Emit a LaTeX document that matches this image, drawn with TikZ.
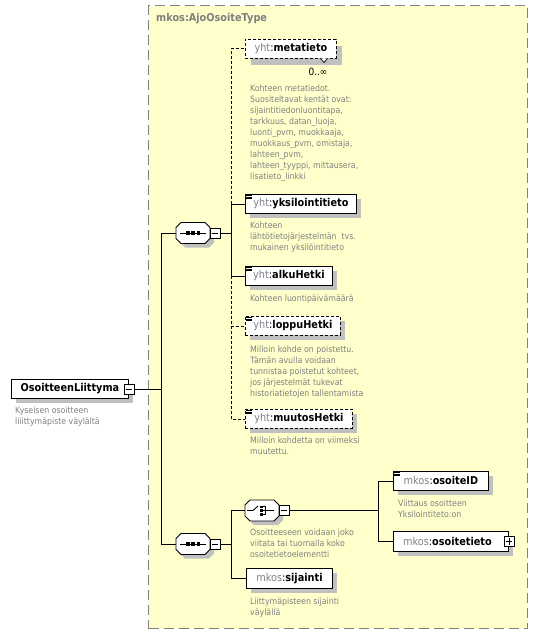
\documentclass[tikz,border=0pt]{standalone}
\usepackage{fontspec}
\setmainfont{DejaVu Sans}[FakeStretch=0.9]
\usetikzlibrary{shadows}
\definecolor{bgyellow}{RGB}{255,255,204}
\definecolor{framegray}{RGB}{128,128,128}
\definecolor{shadowc}{RGB}{192,192,192}
\definecolor{descc}{RGB}{128,128,128}
\definecolor{prefc}{RGB}{128,128,140}
\newcommand\namefont{\fontsize{10.8}{12}\selectfont}
\newcommand\descfont{\fontsize{8.7}{10.9}\selectfont}
\newcommand\qn[2]{{\color{prefc}\mdseries #1}{\mdseries :}#2}
\tikzset{
 basebox/.style={draw=black, fill=white, line width=0.9pt, inner sep=0pt, minimum height=19pt, anchor=north west, font=\namefont\bfseries},
 elbox/.style={basebox, drop shadow={shadow xshift=4.5pt, shadow yshift=-4.5pt, fill=shadowc, opacity=1}},
 optbox/.style={elbox, dash pattern=on 3pt off 2pt},
 desctext/.style={anchor=north west, align=left, inner sep=0pt, text=descc, font=\descfont},
 conn/.style={line width=0.9pt, draw=black},
 optconn/.style={conn, dash pattern=on 3pt off 2pt},
 pmbox/.style={draw=black, fill=white, line width=0.8pt, minimum width=10pt, minimum height=10pt, inner sep=0pt},
 octline/.style={draw=black, fill=white, line width=0.9pt},
 pmsign/.style={line width=0.8pt},
 iconline/.style={line width=0.6pt},
 glyph/.style={line width=0.9pt},
}
\newcommand\octnode[3]{%
 \begin{scope}[shift={(#2,#3)}]
 \fill[shadowc] (-8,-6.5) -- (16,-6.5) -- (21,-1.5) -- (21,9.5) -- (16,14.5) -- (-8,14.5) -- (-13,9.5) -- (-13,-1.5) -- cycle;
 \draw[octline] (-12,-10.5) -- (12,-10.5) -- (17,-5.5) -- (17,5.5) -- (12,10.5) -- (-12,10.5) -- (-17,5.5) -- (-17,-5.5) -- cycle;
 \node[inner sep=0pt, minimum width=34pt, minimum height=21pt] (#1) at (0,0) {};
 \end{scope}}
\newcommand\seqicon[2]{%
 \begin{scope}[shift={(#1,#2)}]
 \draw[glyph] (-13,0) -- (13,0);
 \fill (-7,-1.75) rectangle (-3.5,1.75);
 \fill (-1.75,-1.75) rectangle (1.75,1.75);
 \fill (3.5,-1.75) rectangle (7,1.75);
 \end{scope}}
\newcommand\choiceicon[2]{%
 \begin{scope}[shift={(#1,#2)}]
 \draw[glyph] (-15,0) -- (-9,0) -- (-4,-4.5);
 \fill (-2,-5) rectangle (0.5,-2.5);
 \fill (-2,-1.25) rectangle (0.5,1.25);
 \fill (-2,2.5) rectangle (0.5,5);
 \draw[glyph] (0.5,-3.75) -- (3,-3.75) -- (3,3.75) -- (0.5,3.75);
 \draw[glyph] (0.5,0) -- (12,0);
 \end{scope}}
\newcommand\simpleicon[1]{%
 \foreach \d in {1.3,2.8,4.3}{\draw[iconline] ([xshift=1pt,yshift=-\d pt]#1.north west) -- ++(5.5,0);}}
\begin{document}
\begin{tikzpicture}[x=1pt,y=-1pt]
\useasboundingbox (0,0) rectangle (537,634);
\fill[white] (0,0) rectangle (537,634);
% complex type container
\node[draw=framegray, fill=bgyellow, line width=1.3pt, dash pattern=on 10pt off 5pt, inner sep=0pt, minimum width=379pt, minimum height=623pt, anchor=north west] (typebox) at (148,5) {};
\node[anchor=west, inner sep=0pt, font=\namefont\bfseries, text=framegray] (typetitle) at (156,19) {mkos:AjoOsoiteType};

% root element
\node[elbox, minimum width=117pt] (root) at (11,379) {OsoitteenLiittyma};
\node[pmbox] (rootm) at (root.east) {};
\draw[pmsign] ([xshift=2pt]rootm.west) -- ([xshift=-2pt]rootm.east);
\node[desctext] (rootd) at (15,407) {Kyseisen osoitteen\\liiittymäpiste väylältä};

% sequences and choice
\octnode{seqA}{193}{233}
\seqicon{193}{233}
\node[pmbox] (seqAm) at (215,233) {};
\draw[pmsign] ([xshift=2pt]seqAm.west) -- ([xshift=-2pt]seqAm.east);

\octnode{seqB}{193}{544}
\seqicon{193}{544}
\node[pmbox] (seqBm) at (215,544) {};
\draw[pmsign] ([xshift=2pt]seqBm.west) -- ([xshift=-2pt]seqBm.east);

\octnode{choice}{262}{510.5}
\choiceicon{262}{510.5}
\node[pmbox] (choicem) at (284,510.5) {};
\draw[pmsign] ([xshift=2pt]choicem.west) -- ([xshift=-2pt]choicem.east);
\node[desctext] (choiced) at (250,529) {Osoitteeseen voidaan joko\\viitata tai tuomalla koko\\osoitetietoelementti};

% elements of first sequence
\node[basebox, dash pattern=on 3pt off 2pt, minimum width=91pt,
  drop shadow={shadow xshift=5.5pt, shadow yshift=-6.5pt, fill=shadowc, opacity=1}] (meta) at (245,39) {\qn{yht}{metatieto}};
\fill[white] (320,58.4) -- (324,62.5) -- (328,58.4) -- cycle;
\draw[line width=0.7pt] (320,58) -- (324,62.5) -- (327.5,58.5);
\node[font=\fontsize{10}{12}\selectfont, inner sep=0pt] (metaocc) at (318,72) {0..∞};
\node[desctext] (metad) at (250,85) {Kohteen metatiedot.\\Suositeltavat kentät ovat:\\sijaintitiedonluontitapa,\\tarkkuus, datan\_luoja,\\luonti\_pvm, muokkaaja,\\muokkaus\_pvm, omistaja,\\lahteen\_pvm,\\lahteen\_tyyppi, mittausera,\\lisatieto\_linkki};

\node[elbox, minimum width=111pt] (yks) at (245,194) {\qn{yht}{yksilointitieto}};
\simpleicon{yks}
\node[desctext] (yksd) at (250,222) {Kohteen\\lähtötietojärjestelmän\ \ tvs.\\mukainen yksilöintitieto};

\node[elbox, minimum width=87pt] (alku) at (245,266) {\qn{yht}{alkuHetki}};
\simpleicon{alku}
\node[desctext] (alkud) at (250,295) {Kohteen luontipäivämäärä};

\node[optbox, minimum width=95pt] (loppu) at (245,316) {\qn{yht}{loppuHetki}};
\simpleicon{loppu}
\node[desctext] (loppud) at (250,346) {Milloin kohde on poistettu.\\Tämän avulla voidaan\\tunnistaa poistetut kohteet,\\jos järjestelmät tukevat\\historiatietojen tallentamista};

\node[optbox, minimum width=107pt] (muutos) at (245,409) {\qn{yht}{muutosHetki}};
\simpleicon{muutos}
\node[desctext] (muutosd) at (250,437) {Milloin kohdetta on viimeksi\\muutettu.};

% elements of second sequence / choice
\node[elbox, minimum width=95pt] (oid) at (393,471) {\qn{mkos}{osoiteID}};
\simpleicon{oid}
\node[desctext] (oidd) at (398,500) {Viittaus osoitteen\\Yksilointiteto:on};

\node[elbox, minimum width=115pt, minimum height=20pt] (otieto) at (393,531) {\qn{mkos}{osoitetieto}\hspace*{7pt}};
\node[pmbox] (otietop) at (otieto.east) {};
\draw[pmsign] ([xshift=2pt]otietop.west) -- ([xshift=-2pt]otietop.east);
\draw[pmsign] ([yshift=2pt]otietop.south) -- ([yshift=-2pt]otietop.north);

\node[elbox, minimum width=86pt, minimum height=20pt] (sij) at (246,568) {\qn{mkos}{sijainti}};
\node[desctext] (sijd) at (250,598) {Liittymäpisteen sijainti\\väylällä};

% connectors
\coordinate (busA) at (161,388);
\coordinate (busB) at (231,233);
\coordinate (busC) at (231,544);
\coordinate (busD) at (378,510.5);
\draw[conn] (rootm.east) -- (rootm.east -| busA);
\draw[conn] (seqA.west) -- (seqA.west -| busA) -- (seqB.west -| busA) -- (seqB.west);
\draw[conn] (seqAm.east) -- (busB);
\draw[conn] (busB) |- (yks.west);
\draw[conn] (busB) |- (alku.west);
\draw[optconn] (busB |- yks.west) |- (meta.west);
\draw[optconn] (busB |- alku.west) |- (loppu.west);
\draw[optconn] (busB |- loppu.west) |- (muutos.west);
\draw[conn] (seqBm.east) -- (busC);
\draw[conn] (busC) |- (choice.west);
\draw[conn] (busC) |- (sij.west);
\draw[conn] (choicem.east) -- (busD);
\draw[conn] (busD) |- (oid.west);
\draw[conn] (busD) |- (otieto.west);
\end{tikzpicture}
\end{document}
